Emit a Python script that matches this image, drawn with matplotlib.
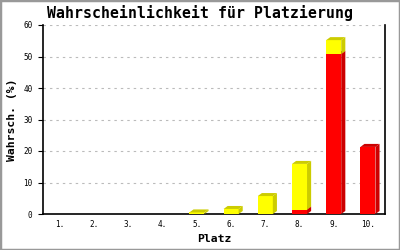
import numpy as np
from matplotlib import pyplot as plt
from matplotlib.patches import Rectangle

places = ['1.', '2.', '3.', '4.', '5.', '6.', '7.', '8.', '9.', '10.']
red_vals = [0, 0, 0, 0, 0, 0, 0, 1.4, 50.8, 21.3]
yellow_vals = [0, 0, 0, 0, 0.5, 1.6, 5.7, 14.5, 4.4, 0]
yticks = [0, 10, 20, 30, 40, 50, 60]

font = 'DejaVu Sans Mono'


def draw_bar3d(ax, x, bottom, height, face, side, width=0.44, dx=0.12, dy=0.95):
  if height <= 0:
    return
  left = x - width / 2
  right = x + width / 2
  top = bottom + height
  ax.bar(x, height, width=width, bottom=bottom, color=face, linewidth=0, zorder=3)
  # side face
  ax.fill([right, right + dx, right + dx, right], [bottom, bottom + dy, top + dy, top], color=side, linewidth=0, zorder=3)
  # top face
  ax.fill([left, right, right + dx, left + dx], [top, top, top + dy, top + dy], color=side, linewidth=0, zorder=3)


fig = plt.figure(figsize=(4, 2.5), dpi=100)
ax = fig.add_axes([0.1075, 0.144, 0.855, 0.756])

xs = np.arange(len(places))
for x, r, y in zip(xs, red_vals, yellow_vals):
  draw_bar3d(ax, x, 0, r, '#ff0000', '#cc0000')
  draw_bar3d(ax, x, r, y, '#ffff00', '#cccc00')

ax.set_xlim(-0.5, len(places) - 0.5)
ax.set_ylim(0, 60)
ax.set_xticks(xs)
ax.set_xticklabels(places, fontfamily=font, fontsize=5.5)
ax.set_yticks(yticks)
ax.set_yticklabels([str(v) for v in yticks], fontfamily=font, fontsize=5.5)
ax.tick_params(axis='x', length=0, pad=4.5)
ax.tick_params(axis='y', length=3.6, width=0.8, pad=4)

ax.grid(axis='y', color='#bbbbbb', linestyle=(0, (2.2, 3.6)), linewidth=0.8, zorder=0)
ax.spines['top'].set_visible(False)
for s in ['left', 'right', 'bottom']:
  ax.spines[s].set_linewidth(1.2)
ax.set_axisbelow(True)

fig.text(0.5, 0.948, 'Wahrscheinlichkeit für Platzierung', ha='center', va='center',
         fontfamily=font, fontsize=10.7, fontweight='bold')
fig.text(0.535, 0.044, 'Platz', ha='center', va='center', fontfamily=font, fontsize=8.2, fontweight='bold')
fig.text(0.03, 0.52, 'Wahrsch. (%)', ha='center', va='center', rotation=90,
         fontfamily=font, fontsize=8.2, fontweight='bold')

fig.patches.append(Rectangle((0, 0), 1, 1, transform=fig.transFigure, fill=False,
                             edgecolor='#999999', linewidth=2.5))

fig.savefig('out.png', dpi=100)
